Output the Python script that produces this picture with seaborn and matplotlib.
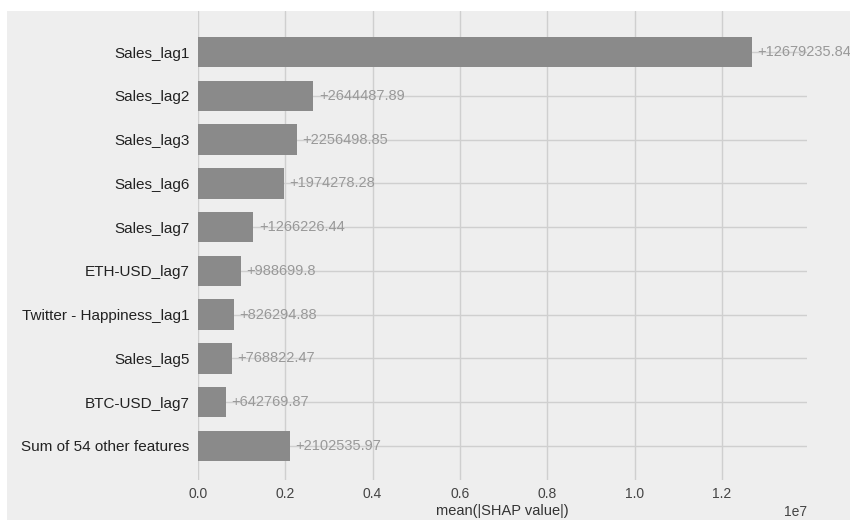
import matplotlib
matplotlib.use("Agg")
import matplotlib.pyplot as plt
from matplotlib.patches import Rectangle
import pandas as pd
import seaborn as sns

# mean(|SHAP|) per feature, as shown in the bar plot
features = [
    "Sales_lag1",
    "Sales_lag2",
    "Sales_lag3",
    "Sales_lag6",
    "Sales_lag7",
    "ETH-USD_lag7",
    "Twitter - Happiness_lag1",
    "Sales_lag5",
    "BTC-USD_lag7",
    "Sum of 54 other features",
]
shap_values = [
    12679235.84,
    2644487.89,
    2256498.85,
    1974278.28,
    1266226.44,
    988699.8,
    826294.88,
    768822.47,
    642769.87,
    2102535.97,
]

df = pd.DataFrame({"feature": features, "value": shap_values})

bg = "#eeeeee"
sns.set_style(
    "whitegrid",
    {
        "axes.facecolor": bg,
        "figure.facecolor": "white",
        "grid.color": "#cfcfcf",
        "axes.edgecolor": bg,
    },
)
plt.rcParams["font.family"] = ["Liberation Sans", "DejaVu Sans"]

fig = plt.figure(figsize=(8.5, 5.2), dpi=100)
# grey screenshot panel, with a thin white border at the top/left
fig.patches.append(
    Rectangle((7 / 850, 0), 1, 1 - 11 / 520, transform=fig.transFigure,
              facecolor=bg, edgecolor="none", zorder=-10)
)
ax = fig.add_axes([198 / 850, 1 - 480 / 520, (807 - 198) / 850, (480 - 11) / 520])

sns.barplot(data=df, x="value", y="feature", orient="h", color="#8a8a8a",
            saturation=1, width=0.7, linewidth=0, ax=ax, zorder=3)

labels = ["+" + str(round(v, 2)) for v in shap_values]
ax.bar_label(ax.containers[0], labels=labels, padding=4, color="#999999",
             fontsize=10.5)

ax.set_xlim(0, 1.395e7)
ax.set_ylim(9.78, -0.94)
ax.set_xticks([0, 0.2e7, 0.4e7, 0.6e7, 0.8e7, 1.0e7, 1.2e7])
ax.ticklabel_format(axis="x", style="sci", scilimits=(0, 0))
ax.xaxis.get_offset_text().set_fontsize(10)
ax.xaxis.get_offset_text().set_color("#444444")

ax.grid(True, axis="both", color="#cfcfcf", linewidth=1, zorder=0)
ax.set_axisbelow(True)
for s in ax.spines.values():
    s.set_visible(False)
ax.tick_params(axis="both", length=0)
ax.tick_params(axis="y", labelsize=11, labelcolor="#222222", pad=6)
ax.tick_params(axis="x", labelsize=10, labelcolor="#444444", pad=5)
ax.set_ylabel("")
ax.set_xlabel("mean(|SHAP value|)", fontsize=10.5, color="#333333", labelpad=2)

fig.savefig("out.png", dpi=100)
